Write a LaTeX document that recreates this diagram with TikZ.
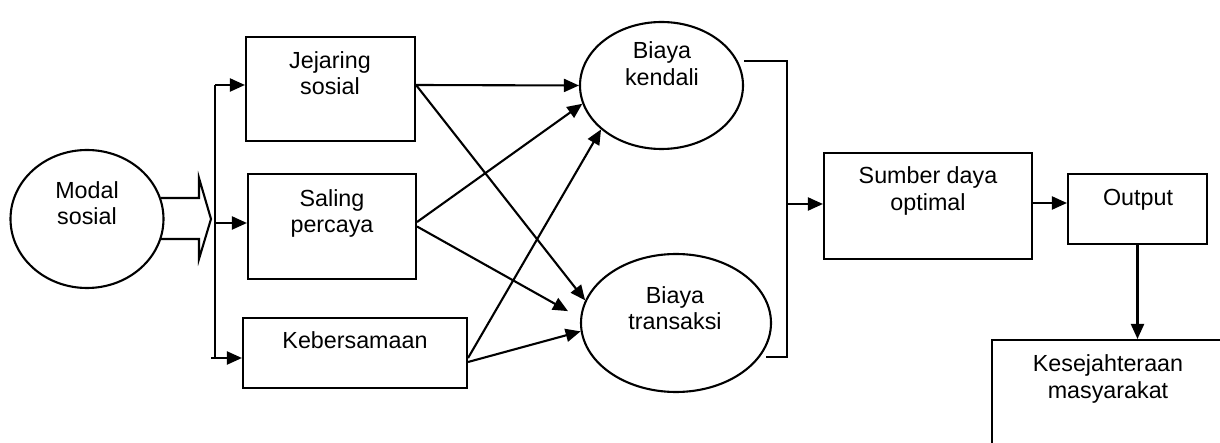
\documentclass[tikz,border=0pt]{standalone}
\usepackage{fontspec}
\setmainfont{Liberation Sans}
\usetikzlibrary{arrows.meta,shapes.geometric,calc}
\tikzset{
  ln/.style={line width=2.1pt},
  arr/.style={ln,-{Triangle[length=15pt,width=13pt]}},
  boxn/.style={draw,ln,rectangle,inner sep=0pt},
  elln/.style={draw,ln,ellipse,inner sep=0pt},
  txt/.style={align=center,inner sep=0pt,font=\fontsize{23.3}{26.5}\selectfont}
}
\begin{document}
\begin{tikzpicture}[x=1pt,y=-1pt]
\useasboundingbox (0,0) rectangle (1220,443);
\clip (0,0) rectangle (1220,443);
% shapes
\node[elln,minimum width=153pt,minimum height=138pt] (modal) at (87,219) {};
\node[boxn,minimum width=169pt,minimum height=104pt] (jej) at (330.5,89) {};
\node[boxn,minimum width=168pt,minimum height=105pt] (sal) at (332,226.5) {};
\node[boxn,minimum width=224pt,minimum height=70pt] (keb) at (355,353) {};
\node[elln,minimum width=163pt,minimum height=127pt] (kend) at (661.5,85.5) {};
\node[elln,minimum width=190pt,minimum height=138pt] (trans) at (676,323) {};
\node[boxn,minimum width=208pt,minimum height=106pt] (sum) at (928,206) {};
\node[boxn,minimum width=139pt,minimum height=70pt] (out) at (1137.5,209) {};
\node[boxn,minimum width=260pt,minimum height=140pt,anchor=north west] (kes) at (991,339) {};
% texts
\node[txt] (tmodal) at (87,206) {\strut Modal\\\strut sosial};
\node[txt] (tjej) at (330,76) {\strut Jejaring\\\strut sosial};
\node[txt] (tsal) at (332,214) {\strut Saling\\\strut percaya};
\node[txt] (tkeb) at (355,343) {\strut Kebersamaan};
\node[txt] (tkend) at (662,66.5) {\strut Biaya\\\strut kendali};
\node[txt] (ttrans) at (675,311) {\strut Biaya\\\strut transaksi};
\node[txt] (tsum) at (928,191.5) {\strut Sumber daya\\\strut optimal};
\node[txt] (tout) at (1138,200) {\strut Output};
\node[txt] (tkes) at (1108,379.5) {\strut Kesejahteraan\\\strut masyarakat};
% block arrow
\draw[ln,line join=miter] (161,198) -- (199,198) -- (199,178) -- (211,219) -- (199,259) -- (199,239) -- (161,239);
% bus
\coordinate (bt) at (215,85);
\coordinate (bm) at (215,223);
\coordinate (bb) at (215,358);
\draw[ln] (bt) -- (bb);
\draw[ln] (211,358) -- (bb);
\draw[arr] (bt) -- (bt -| jej.west);
\draw[arr] (bm) -- (bm -| sal.west);
\draw[arr] (bb) -- (bb -| keb.west);
% middle arrows
\draw[arr] ([yshift=4pt]jej.east) -- (kend.west);
\draw[arr] ([yshift=4pt]jej.east) -- (trans.166);
\draw[arr] ([yshift=4.5pt]sal.east) -- (kend.193);
\draw[arr,shorten >=14pt] (sal.east) -- (trans.177);
\draw[arr] ([yshift=-5pt]keb.east) -- (kend.216);
\draw[arr] ([yshift=-9pt]keb.east) -- (trans.185);
% bracket
\coordinate (jn) at (787,204);
\coordinate (bk) at (787,357);
\draw[ln] ([yshift=24.5pt]kend.east) -| (bk) -- ([xshift=-6pt,yshift=-34pt]trans.east);
\draw[arr] (jn) -- (jn -| sum.west);
\draw[arr] ([yshift=3pt]sum.east) -- ([yshift=3pt]sum.east -| out.west);
\draw[arr] (out.south) -- (out.south |- kes.north);
\end{tikzpicture}
\end{document}
